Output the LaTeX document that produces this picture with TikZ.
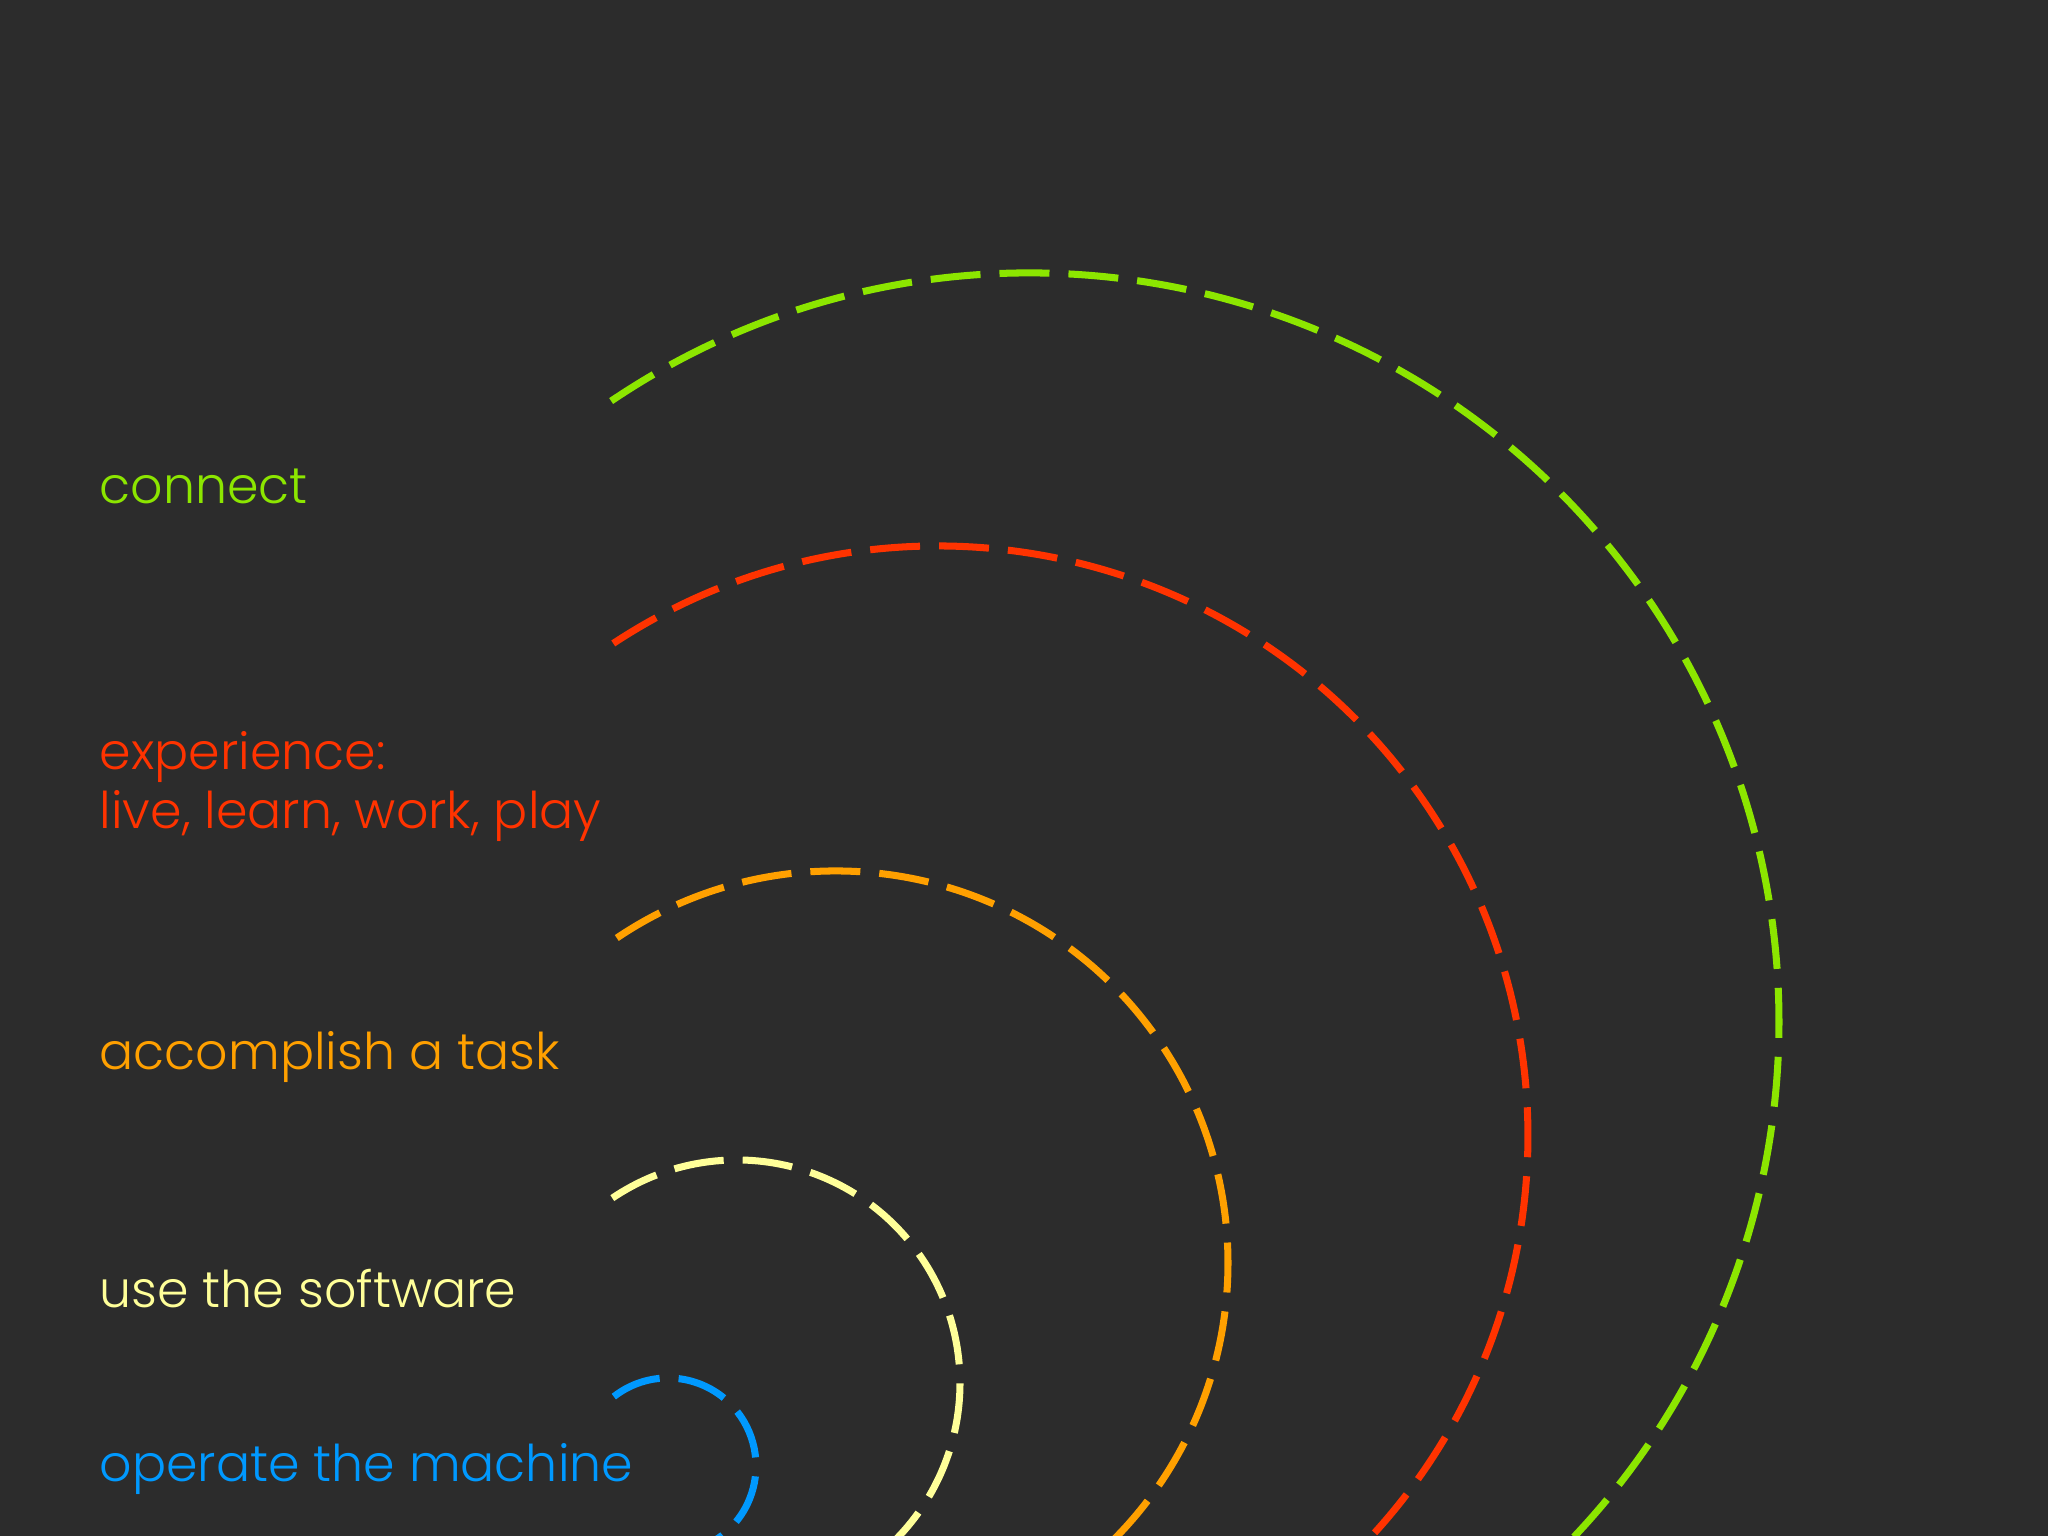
\documentclass[tikz,border=0pt]{standalone}
\usepackage{fontspec}
\setmainfont{Poppins Light}
\usetikzlibrary{positioning}

\definecolor{bgcol}{HTML}{2C2C2C}
\definecolor{cgreen}{HTML}{8CE600}
\definecolor{cred}{HTML}{FF3300}
\definecolor{corange}{HTML}{FFA000}
\definecolor{cyellow}{HTML}{FFFF99}
\definecolor{cblue}{HTML}{0099FF}

\begin{document}
\begin{tikzpicture}
\fill[bgcol] (0,0) rectangle (20.48,15.36);
\useasboundingbox (0,0) rectangle (20.48,15.36);
\clip (0,0) rectangle (20.48,15.36);

\begin{scope}[every node/.style={anchor=base west,inner sep=0pt,font=\fontsize{14.4}{17}\selectfont,align=left}]
    \node (connect) at (0.99, 10.32) [text=cgreen] {connect};
    \node (experience) at (0.99, 7.07) [text=cred] {experience:\\live, learn, work, play};
    \node (task) at (0.99, 4.66) [text=corange] {accomplish a task};
    \node (software) at (0.99, 2.28) [text=cyellow] {use the software};
    \node (machine) at (0.99, 0.54) [text=cblue] {operate the machine};
\end{scope}

\begin{scope}[every path/.style={line width=2pt,dash pattern=on 0.5cm off 0.19cm}]
    \coordinate (gc) at (10.30, 5.14);
    \coordinate (rc) at (9.38, 4.00);
    \coordinate (oc) at (8.36, 2.73);
    \coordinate (yc) at (7.37, 1.53);
    \coordinate (bc) at (6.68, 0.70);
    \draw [cgreen] ([shift={(124:7.49)}]gc) arc [start angle=124, end angle=-70, radius=7.49];
    \draw [cred] ([shift={(123.4:5.9)}]rc) arc [start angle=123.4, end angle=-70, radius=5.9];
    \draw [corange] ([shift={(124:3.92)}]oc) arc [start angle=124, end angle=-70, radius=3.92];
    \draw [cyellow] ([shift={(124:2.23)}]yc) arc [start angle=124, end angle=-70, radius=2.23];
    \draw [cblue] ([shift={(128:0.88)}]bc) arc [start angle=128, end angle=-70, radius=0.88];
\end{scope}
\end{tikzpicture}
\end{document}
